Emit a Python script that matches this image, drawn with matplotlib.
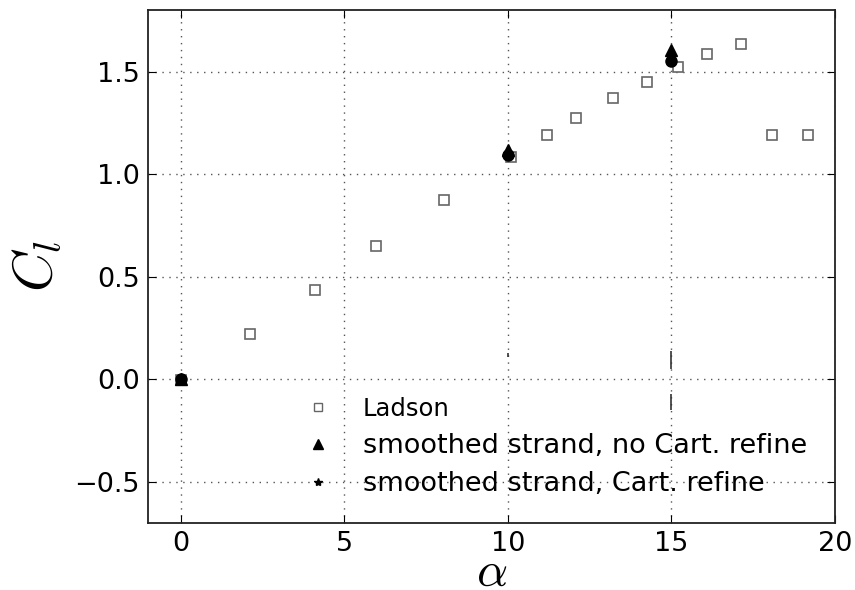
import numpy as np
import matplotlib.pyplot as plt
from matplotlib.lines import Line2D

plt.rcParams['mathtext.fontset'] = 'cm'

# Ladson experimental lift data
alpha_lad = [0.0, 2.13, 4.09, 5.98, 8.05, 10.09, 11.19, 12.07, 13.2, 14.24, 15.21, 16.1, 17.13, 18.08, 19.18]
cl_lad = [-0.005, 0.223, 0.437, 0.65, 0.874, 1.083, 1.19, 1.272, 1.369, 1.451, 1.524, 1.587, 1.636, 1.19, 1.19]

# strand solver runs
alpha_run = [0.0, 10.0, 15.0]
cl_nocart = [0.0, 1.117, 1.607]
cl_cart = [0.0, 1.092, 1.553]

# leftover short strokes near the axis
stroke_x = [10.0, 15.0, 15.0]
stroke_lo = [0.11, 0.05, -0.15]
stroke_hi = [0.13, 0.14, -0.07]

fig = plt.figure(figsize=(8.55, 5.9), dpi=100)
ax = fig.add_axes([148/855, 1-523/590, 687/855, 513/590])

ax.plot(alpha_lad, cl_lad, 's', mfc='white', mec='#666666', mew=1.2, ms=7.5)
ax.plot(alpha_run, cl_nocart, '^', color='black', ms=8)
ax.plot(alpha_run, cl_cart, 'o', color='black', ms=8)
ax.vlines(stroke_x, stroke_lo, stroke_hi, color='#333333', lw=1.2)

ax.set_xlim(-1, 20)
ax.set_ylim(-0.7, 1.8)
ax.set_xticks([0, 5, 10, 15, 20])
ax.set_yticks([-0.5, 0.0, 0.5, 1.0, 1.5])
ax.grid(True, color='#555555', linestyle=(0, (1, 4)), linewidth=1)
ax.tick_params(direction='in', labelsize=19.5, length=6, top=True, right=True, pad=6)
for sp in ax.spines.values():
    sp.set_linewidth(1.3)
    sp.set_color('#222222')
ax.set_xlabel(r'$\alpha$', fontsize=35, labelpad=-7)
ax.set_ylabel(r'$C_l$', fontsize=40, labelpad=8)

handles = [
    Line2D([], [], ls='none', marker='s', mfc='white', mec='#666666', ms=6),
    Line2D([], [], ls='none', marker='^', color='black', ms=7),
    Line2D([], [], ls='none', marker='*', color='black', ms=6),
]
labels = ['Ladson', 'smoothed strand, no Cart. refine', 'smoothed strand, Cart. refine']
leg = ax.legend(handles, labels, loc='upper left', bbox_to_anchor=(0.192, 0.293), frameon=False,
                fontsize=19.5, handlelength=1.0, handletextpad=1.15, labelspacing=0.45)
leg.get_texts()[0].set_fontsize(17.5)

fig.savefig('out.png', dpi=100)
